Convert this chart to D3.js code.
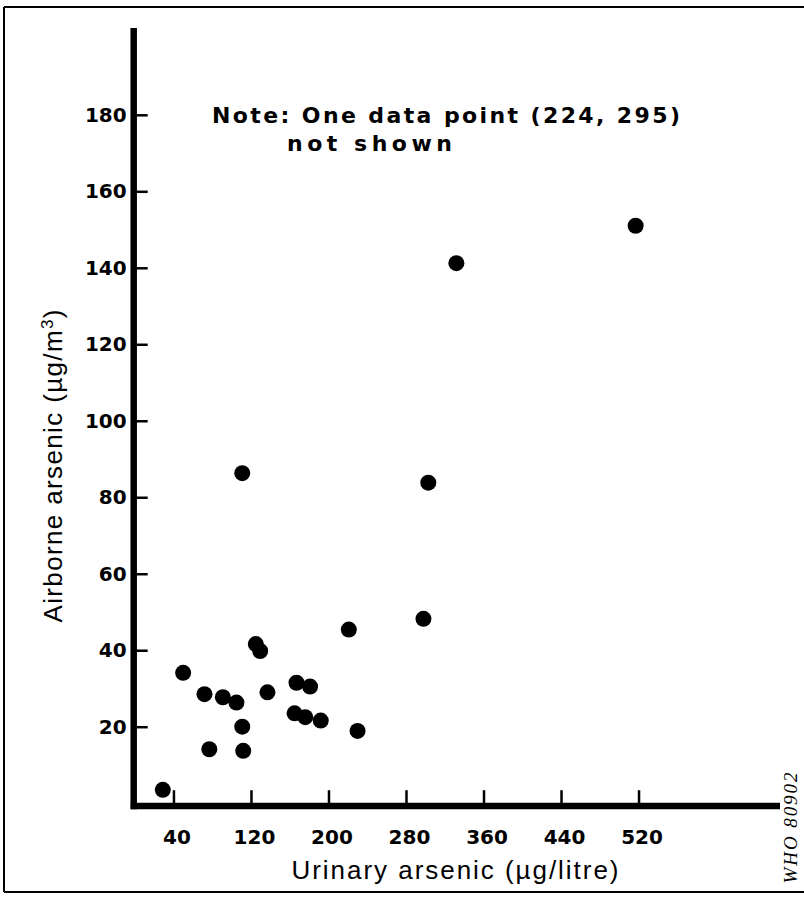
<!DOCTYPE html>
<html>
<head>
<meta charset="utf-8">
<script src="https://cdn.jsdelivr.net/npm/d3@7"></script>
<style>
  body { margin: 0; background: #fff; }
  svg { display: block; }
</style>
</head>
<body>
<svg id="chart" width="804" height="904"></svg>
<script>
// ---- data ----
const urinary  = [29, 50, 72, 77, 91, 105, 111, 112, 111, 125, 129.5, 137, 167, 181, 165, 176, 192, 221, 230, 298, 303, 332, 517];
const airborne = [3.5, 34.1, 28.5, 14.1, 27.7, 26.3, 20.0, 13.7, 86.3, 41.6, 39.8, 29.0, 31.5, 30.5, 23.5, 22.5, 21.6, 45.4, 18.9, 48.2, 83.8, 141.2, 151];
const xTicks = [40, 120, 200, 280, 360, 440, 520];
const yTicks = [20, 40, 60, 80, 100, 120, 140, 160, 180];
const xTitle = "Urinary arsenic (\u00b5g/litre)";
const yTitle = "Airborne arsenic (\u00b5g/m";
const noteLine1 = "Note: One data point (224, 295)";
const noteLine2 = "not shown";
const stamp = "WHO 80902";

const svg = d3.select("#chart");
const x = d3.scaleLinear().domain([0, 666]).range([134.7, 780]);
const y = d3.scaleLinear().domain([0, 202.7]).range([803.2, 28]);

// frame
const frame = svg.append("g").attr("stroke", "#000").attr("stroke-width", 2).attr("fill", "none");
frame.append("line").attr("x1", 4).attr("y1", 7).attr("x2", 804).attr("y2", 7);
frame.append("line").attr("x1", 4).attr("y1", 7).attr("x2", 4).attr("y2", 892);
frame.append("line").attr("x1", 4).attr("y1", 892).attr("x2", 804).attr("y2", 892);

// axes
const tickFont = "'DejaVu Sans', sans-serif";
const gx = svg.append("g").attr("transform", `translate(0,${y(0)})`)
  .call(d3.axisBottom(x).tickValues(xTicks).tickSize(-13).tickPadding(27).tickFormat(d3.format("d")));
gx.select(".domain").remove();
gx.selectAll(".tick line").attr("stroke", "#000").attr("stroke-width", 2.5);
gx.selectAll(".tick text").attr("font-family", tickFont).attr("font-weight", "bold")
  .attr("font-size", 20).attr("fill", "#000").attr("dx", 3);

const gy = svg.append("g").attr("transform", `translate(${x(0)},0)`)
  .call(d3.axisLeft(y).tickValues(yTicks).tickSize(-13).tickPadding(8).tickFormat(d3.format("d")));
gy.select(".domain").remove();
gy.selectAll(".tick line").attr("stroke", "#000").attr("stroke-width", 2.5);
gy.selectAll(".tick text").attr("font-family", tickFont).attr("font-weight", "bold")
  .attr("font-size", 20).attr("fill", "#000");

// axis lines
svg.append("line").attr("x1", x(0) - 1).attr("x2", x(0) - 1)
  .attr("y1", y(202.7)).attr("y2", y(0) + 6)
  .attr("stroke", "#000").attr("stroke-width", 6.5);
svg.append("line").attr("x1", x(0) - 4).attr("x2", x(666))
  .attr("y1", y(0) + 2.8).attr("y2", y(0) + 2.8)
  .attr("stroke", "#000").attr("stroke-width", 6.5);

// points
svg.append("g").selectAll("circle").data(urinary.map((u, i) => [u, airborne[i]]))
  .join("circle")
  .attr("cx", d => x(d[0])).attr("cy", d => y(d[1])).attr("r", 8).attr("fill", "#000");

// note
svg.append("text").attr("x", 212).attr("y", 123)
  .attr("font-family", tickFont).attr("font-weight", "bold").attr("font-size", 22)
  .attr("textLength", 468).attr("lengthAdjust", "spacing").text(noteLine1);
svg.append("text").attr("x", 287).attr("y", 151)
  .attr("font-family", tickFont).attr("font-weight", "bold").attr("font-size", 22)
  .attr("textLength", 165).attr("lengthAdjust", "spacing").text(noteLine2);

// titles
const titleFont = "'Liberation Sans', Arial, sans-serif";
svg.append("text").attr("x", 455).attr("y", 879).attr("text-anchor", "middle")
  .attr("font-family", titleFont).attr("font-size", 26)
  .attr("textLength", 327).attr("lengthAdjust", "spacing").text(xTitle);

const yt = svg.append("text").attr("transform", "translate(62,466) rotate(-90)")
  .attr("text-anchor", "middle").attr("font-family", titleFont).attr("font-size", 26)
  .attr("textLength", 313).attr("lengthAdjust", "spacing");
yt.append("tspan").text(yTitle);
yt.append("tspan").attr("dy", -9).attr("font-size", 17).text("3");
yt.append("tspan").attr("dy", 9).text(")");

// stamp
svg.append("text").attr("transform", "translate(797,828) rotate(-90)")
  .attr("text-anchor", "middle").attr("font-family", "'Liberation Serif', serif")
  .attr("font-style", "italic").attr("font-size", 19)
  .attr("textLength", 111).attr("lengthAdjust", "spacing").text(stamp);
</script>
</body>
</html>
